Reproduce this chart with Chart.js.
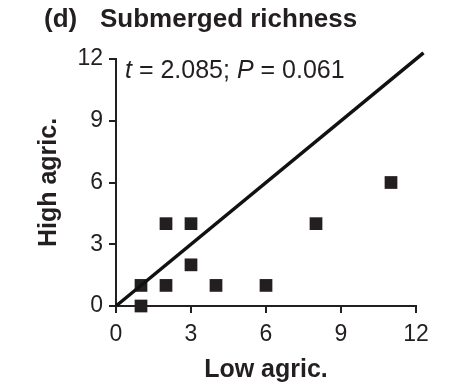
<!DOCTYPE html>
<html>
<head>
<meta charset="utf-8">
<script src="https://cdn.jsdelivr.net/npm/chart.js@4.4.1/dist/chart.umd.min.js"></script>
<style>
  html, body { margin: 0; padding: 0; background: #fff; }
  #wrap { width: 457px; height: 385px; }
</style>
</head>
<body>
<div id="wrap"><canvas id="richChart" width="457" height="385"></canvas></div>
<script>
const lowAgric = [1, 1, 2, 2, 3, 3, 4, 6, 8, 11];
const highAgric = [0, 1, 1, 4, 4, 2, 1, 1, 4, 6];
const oneToOne = [0, 12.3]; // 1:1 reference line, runs a little past the last tick
const tickValues = [0, 3, 6, 9, 12];

const INK = "#231f20";
const FONT = "'Liberation Sans', Arial, Helvetica, sans-serif";

// title and the t / P annotation, drawn after everything else
const textPlugin = {
  id: "panelText",
  afterDraw(chart) {
    const ctx = chart.ctx;
    const area = chart.chartArea;
    ctx.save();
    ctx.fillStyle = INK;
    ctx.textBaseline = "alphabetic";
    ctx.textAlign = "left";

    ctx.font = "bold 26px " + FONT;
    ctx.fillText("(d)", 44, 27);
    ctx.fillText("Submerged richness", 100, 27);

    // mixed italic / upright pieces
    const parts = [
      ["italic", "t"],
      ["normal", " = 2.085; "],
      ["italic", "P"],
      ["normal", " = 0.061"],
    ];
    let x = area.left + 9;
    const y = area.top + 19;
    parts.forEach(([style, txt]) => {
      ctx.font = style + " 25px " + FONT;
      ctx.fillText(txt, x, y);
      x += ctx.measureText(txt).width;
    });
    ctx.restore();
  },
};

function axisOptions(titleText, titlePad, isX) {
  return {
    type: "linear",
    min: 0,
    max: 12,
    afterBuildTicks: (scale) => {
      scale.ticks = tickValues.map((v) => ({ value: v }));
    },
    afterFit: (scale) => {
      if (isX) scale.height = 79;
      else scale.width = 116;
    },
    border: { display: true, color: INK, width: 2 },
    grid: {
      drawOnChartArea: false,
      drawTicks: true,
      tickLength: 7,
      tickColor: INK,
      lineWidth: 2,
    },
    ticks: {
      color: INK,
      font: { family: FONT, size: 23 },
      padding: isX ? 8 : 6,
      maxRotation: 0,
    },
    title: {
      display: true,
      text: titleText,
      color: INK,
      font: { family: FONT, size: 25, weight: "bold" },
      padding: titlePad,
    },
  };
}

new Chart(document.getElementById("richChart"), {
  type: "scatter",
  data: {
    datasets: [
      {
        type: "line",
        data: oneToOne.map((v) => ({ x: v, y: v })),
        borderColor: "#111",
        borderWidth: 3.5,
        pointRadius: 0,
        fill: false,
        clip: false,
      },
      {
        data: lowAgric.map((v, i) => ({ x: v, y: highAgric[i] })),
        pointStyle: "rect",
        pointRadius: 9,
        backgroundColor: INK,
        borderColor: INK,
        borderWidth: 0,
        clip: false,
      },
    ],
  },
  options: {
    responsive: false,
    animation: false,
    layout: { padding: { top: 59, right: 41, bottom: 0, left: 0 } },
    plugins: {
      legend: { display: false },
      tooltip: { enabled: false },
    },
    scales: {
      x: axisOptions("Low agric.", { top: 0, bottom: 0 }, true),
      y: axisOptions("High agric.", { top: 34, bottom: 0 }, false),
    },
  },
  plugins: [textPlugin],
});
</script>
</body>
</html>
